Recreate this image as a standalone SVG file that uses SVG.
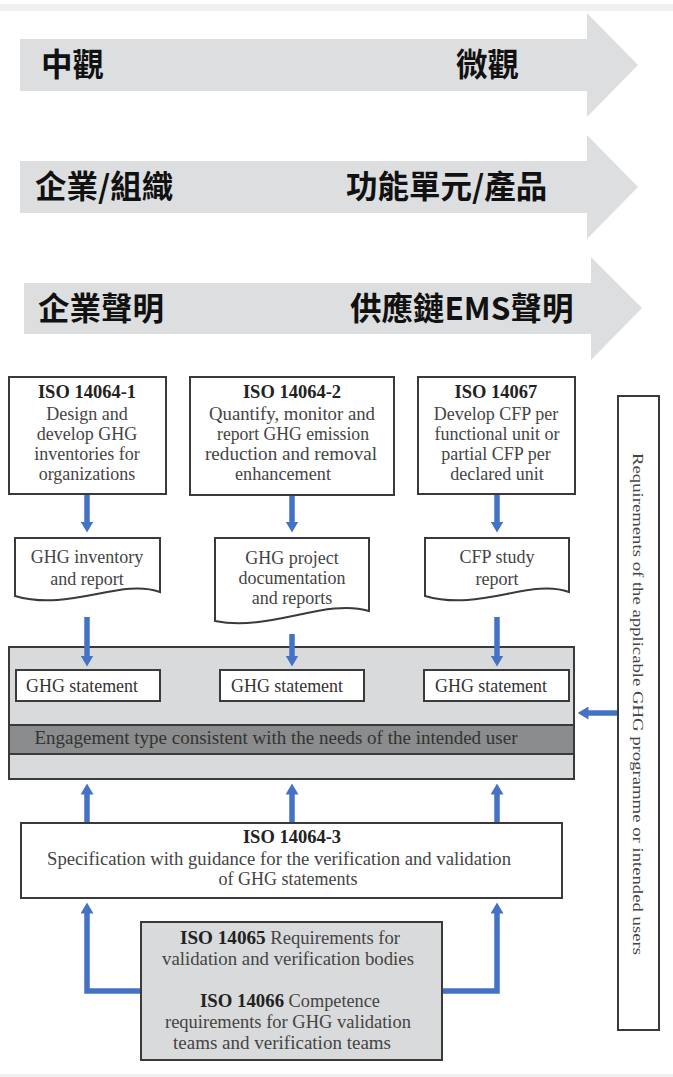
<svg xmlns="http://www.w3.org/2000/svg" width="673" height="1077" viewBox="0 0 673 1077">
<style>
.cjk{font-family:"Noto Sans CJK TC","Noto Sans CJK SC",sans-serif;font-weight:700;font-size:31.5px;fill:#111}
.band{fill:#dcdedf}
.box{fill:#fff;stroke:#3a3a3a;stroke-width:2}
.gbox{fill:#d9dadb;stroke:#3a3a3a;stroke-width:2}
.dark{fill:#8a8c8d;stroke:#3a3a3a;stroke-width:2}
.t{font-family:"Liberation Serif",serif;font-size:18px;fill:#444;text-anchor:middle}
.b{font-weight:700;fill:#222;font-size:18.5px}
.c{fill:none;stroke:#4472c4;stroke-width:5.5}
</style>
<defs>
<marker id="ah" markerUnits="userSpaceOnUse" viewBox="0 0 11 13" markerWidth="11" markerHeight="13" refX="0.5" refY="6.5" orient="auto">
<path d="M0,0 L11,6.5 L0,13 z" fill="#4472c4"/>
</marker>
</defs>
<rect x="0" y="4" width="673" height="7" fill="#f0f0f0"/>
<rect x="0" y="1074" width="673" height="3" fill="#f0f0f0"/>
<g id="arrow-scale">
<path class="band" d="M20,39 H587 V13 L638,65 L587,117 V91 H20 Z"/>
<text class="cjk" x="41" y="76">中觀</text>
<text class="cjk" x="456" y="76">微觀</text>
</g>
<g id="arrow-object">
<path class="band" d="M20,161 H587 V135 L638,187 L587,239 V213 H20 Z"/>
<text class="cjk" x="35" y="198">企業/組織</text>
<text class="cjk" x="346" y="198">功能單元/產品</text>
</g>
<g id="arrow-claim">
<path class="band" d="M24,283 H591 V257 L642,308 L591,360 V334 H24 Z"/>
<text class="cjk" x="38" y="320">企業聲明</text>
<text class="cjk" x="350" y="320">供應鏈EMS聲明</text>
</g>
<g id="iso14064-1">
<rect class="box" x="9" y="377" width="157" height="117"/>
<text class="t b" x="87" y="398">ISO 14064-1</text>
<text class="t" x="87" y="420">Design and</text>
<text class="t" x="87" y="440">develop GHG</text>
<text class="t" x="87" y="460">inventories for</text>
<text class="t" x="87" y="480">organizations</text>
</g>
<g id="iso14064-2">
<rect class="box" x="190" y="377" width="204" height="118"/>
<text class="t b" x="292" y="398">ISO 14064-2</text>
<text class="t" x="292" y="420" textLength="166" lengthAdjust="spacingAndGlyphs">Quantify, monitor and</text>
<text class="t" x="293" y="440" textLength="152" lengthAdjust="spacingAndGlyphs">report GHG emission</text>
<text class="t" x="291" y="460" textLength="172" lengthAdjust="spacingAndGlyphs">reduction and removal</text>
<text class="t" x="283" y="480" textLength="96" lengthAdjust="spacingAndGlyphs">enhancement</text>
</g>
<g id="iso14067">
<rect class="box" x="418" y="377" width="157" height="117"/>
<text class="t b" x="496" y="398">ISO 14067</text>
<text class="t" x="496" y="420">Develop CFP per</text>
<text class="t" x="497" y="440">functional unit or</text>
<text class="t" x="496" y="460">partial CFP per</text>
<text class="t" x="497" y="480">declared unit</text>
</g>
<g id="doc-inventory">
<path class="box" d="M15,538 H160 V592 C120,578 70,612 15,596 Z"/>
<text class="t" x="87" y="563">GHG inventory</text>
<text class="t" x="87" y="585">and report</text>
</g>
<g id="doc-project">
<path class="box" d="M215,538 H369 V611 C325,598 270,632 215,621 Z"/>
<text class="t" x="292" y="564">GHG project</text>
<text class="t" x="292" y="584">documentation</text>
<text class="t" x="292" y="604">and reports</text>
</g>
<g id="doc-cfp">
<path class="box" d="M425,538 H569 V592 C530,578 480,612 425,596 Z"/>
<text class="t" x="497" y="563">CFP study</text>
<text class="t" x="497" y="585">report</text>
</g>
<g id="verification-container">
<rect class="gbox" x="9" y="647" width="565" height="132"/>
<rect class="dark" x="9" y="725" width="565" height="29"/>
<text class="t" x="276" y="744" textLength="483" lengthAdjust="spacingAndGlyphs" style="fill:#333">Engagement type consistent with the needs of the intended user</text>
</g>
<g id="statement-1">
<rect class="box" x="16" y="670" width="144" height="31"/>
<text class="t" x="82" y="692" textLength="112" lengthAdjust="spacingAndGlyphs" style="fill:#333">GHG statement</text>
</g>
<g id="statement-2">
<rect class="box" x="220" y="670" width="144" height="31"/>
<text class="t" x="287" y="692" textLength="112" lengthAdjust="spacingAndGlyphs" style="fill:#333">GHG statement</text>
</g>
<g id="statement-3">
<rect class="box" x="424" y="670" width="145" height="31"/>
<text class="t" x="491" y="692" textLength="112" lengthAdjust="spacingAndGlyphs" style="fill:#333">GHG statement</text>
</g>
<g id="requirements">
<rect class="box" x="618" y="396" width="41" height="634"/>
<text class="t" transform="translate(638,704) rotate(90)" x="0" y="5" textLength="502" lengthAdjust="spacingAndGlyphs" style="font-size:15px">Requirements of the applicable GHG programme or intended users</text>
</g>
<g id="iso14064-3">
<rect class="box" x="21" y="823" width="541" height="75"/>
<text class="t b" x="292" y="843">ISO 14064-3</text>
<text class="t" x="279" y="865" textLength="464" lengthAdjust="spacingAndGlyphs">Specification with guidance for the verification and validation</text>
<text class="t" x="288" y="885" textLength="139" lengthAdjust="spacingAndGlyphs">of GHG statements</text>
</g>
<g id="iso14065-14066">
<rect class="gbox" x="141" y="922" width="301" height="138"/>
<text class="t" x="290" y="944" textLength="220" lengthAdjust="spacingAndGlyphs"><tspan class="b">ISO 14065</tspan> Requirements for</text>
<text class="t" x="288" y="965" textLength="252" lengthAdjust="spacingAndGlyphs">validation and verification bodies</text>
<text class="t" x="290" y="1007" textLength="180" lengthAdjust="spacingAndGlyphs"><tspan class="b">ISO 14066</tspan> Competence</text>
<text class="t" x="288" y="1028" textLength="246" lengthAdjust="spacingAndGlyphs">requirements for GHG validation</text>
<text class="t" x="282" y="1049" textLength="218" lengthAdjust="spacingAndGlyphs">teams and verification teams</text>
</g>
<g id="connectors">
<path class="c" marker-end="url(#ah)" d="M87,495 V522"/>
<path class="c" marker-end="url(#ah)" d="M292,496 V522"/>
<path class="c" marker-end="url(#ah)" d="M497,495 V522"/>
<path class="c" marker-end="url(#ah)" d="M87,617 V656"/>
<path class="c" marker-end="url(#ah)" d="M292,634 V656"/>
<path class="c" marker-end="url(#ah)" d="M497,617 V656"/>
<path class="c" marker-end="url(#ah)" d="M617,713 H588"/>
<path class="c" marker-end="url(#ah)" d="M87,822 V794"/>
<path class="c" marker-end="url(#ah)" d="M292,822 V794"/>
<path class="c" marker-end="url(#ah)" d="M497,822 V794"/>
<path class="c" marker-end="url(#ah)" d="M140,991 H87 V913"/>
<path class="c" marker-end="url(#ah)" d="M443,991 H497 V913"/>
</g>
</svg>
